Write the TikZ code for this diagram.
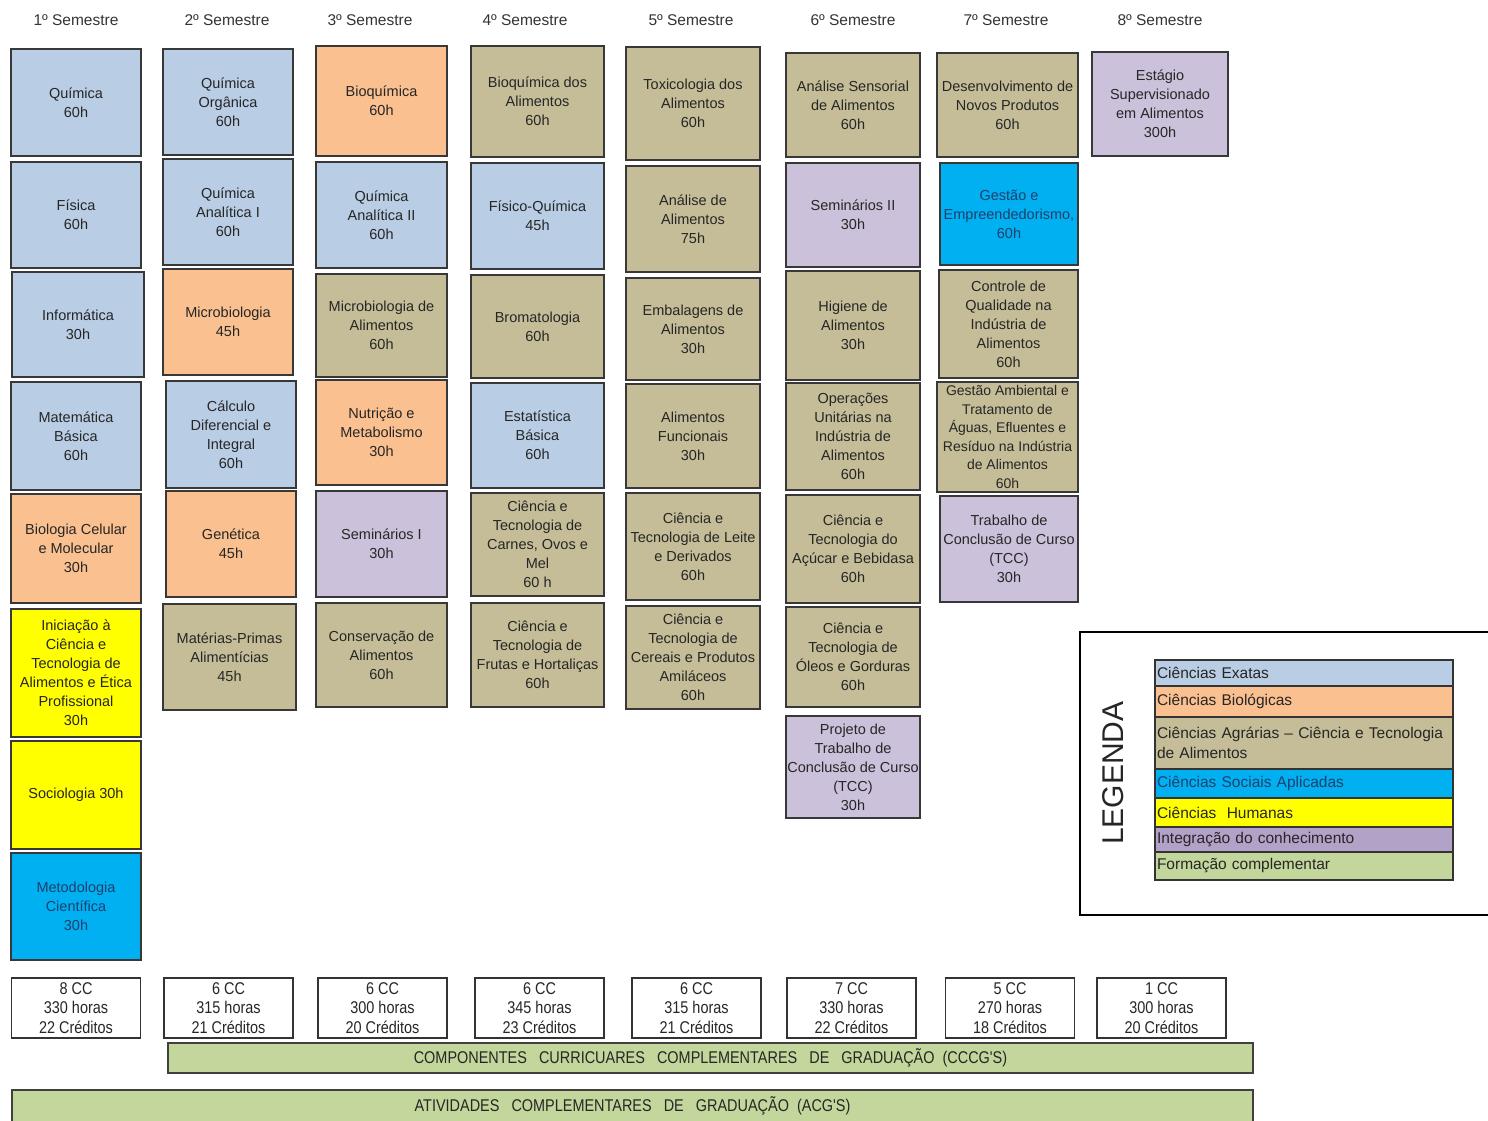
\documentclass[tikz,border=0pt]{standalone}
\usepackage{fontspec}
\setmainfont{Liberation Sans}
\newfontfamily\narrowfont[FakeStretch=0.85]{Liberation Sans}
\usepackage{tikz}
\definecolor{exatas}{HTML}{B9CDE5}
\definecolor{biologicas}{HTML}{FAC090}
\definecolor{agrarias}{HTML}{C4BD97}
\definecolor{sociais}{HTML}{00B0F0}
\definecolor{socialtext}{HTML}{1F3F6F}
\definecolor{humanas}{HTML}{FFFF00}
\definecolor{integracao}{HTML}{CCC1DA}
\definecolor{integleg}{HTML}{B3A2C7}
\definecolor{complementar}{HTML}{C3D69B}

\begin{document}
\begin{tikzpicture}[x=1pt, y=-1pt,
  cc/.style={draw=black!78, line width=1.6pt, align=center, inner sep=1pt, text=black!85, font=\fontsize{14.5}{19}\selectfont},
  exa/.style={cc, fill=exatas},
  bio/.style={cc, fill=biologicas},
  agr/.style={cc, fill=agrarias},
  soc/.style={cc, fill=sociais, text=socialtext},
  hum/.style={cc, fill=humanas},
  integ/.style={cc, fill=integracao},
  sz/.style 2 args={minimum width=#1pt, minimum height=#2pt},
  sem/.style={font=\fontsize{15.5}{18}\selectfont, text=black!80},
  tot/.style={draw=black!80, line width=1.2pt, fill=white, align=center, inner sep=0pt, minimum width=129pt, minimum height=60pt, text=black!85, font=\narrowfont\fontsize{17}{19.5}\selectfont},
  bar/.style={draw=black!75, line width=1.4pt, fill=complementar, text=black!85, font=\narrowfont\fontsize{17}{19}\selectfont},
  leg/.style={draw=black!80, line width=1.2pt, text width=294pt, align=left, inner sep=2pt, text=black!85, font=\fontsize{15.5}{20}\selectfont}]
  \useasboundingbox (0,0) rectangle (1488,1120);

  \foreach \px/\num in {76/1, 227/2, 370/3, 525/4, 691/5, 853/6, 1006/7, 1160/8}
    \node[sem] (sem\num) at (\px,20) {\num{}º Semestre};

  \node[exa, sz={130}{107}] (qui) at (76,102.5) {Química\\60h};
  \node[exa, sz={130}{106}] (fis) at (76,215) {Física\\60h};
  \node[exa, sz={132}{105}] (info) at (78,324.5) {Informática\\30h};
  \node[exa, sz={130}{108}] (matb) at (76,436) {Matemática\\Básica\\60h};
  \node[bio, sz={130}{109}] (biocel) at (76,548.5) {Biologia Celular\\e Molecular\\30h};
  \node[hum, sz={130}{128}] (inic) at (76,673) {Iniciação à\\Ciência e\\Tecnologia de\\Alimentos e Ética\\Profissional\\30h};
  \node[hum, sz={130}{108}] (socio) at (76,795) {Sociologia 30h};
  \node[soc, sz={130}{107}] (metod) at (76,906.5) {Metodologia\\Científica\\30h};

  \node[exa, sz={130}{106}] (qorg) at (228,102) {Química\\Orgânica\\60h};
  \node[exa, sz={130}{106}] (qana1) at (228,212) {Química\\Analítica I\\60h};
  \node[bio, sz={130}{106}] (micro) at (228,322) {Microbiologia\\45h};
  \node[exa, sz={130}{107}] (calc) at (231,434.5) {Cálculo\\Diferencial e\\Integral\\60h};
  \node[bio, sz={130}{106}] (gen) at (231,544) {Genética\\45h};
  \node[agr, sz={133}{106}] (mprim) at (229.5,657) {Matérias-Primas\\Alimentícias\\45h};

  \node[bio, sz={131}{110}] (bioq) at (381.5,101) {Bioquímica\\60h};
  \node[exa, sz={131}{106}] (qana2) at (381.5,215) {Química\\Analítica II\\60h};
  \node[agr, sz={131}{103}] (microal) at (381.5,325.5) {Microbiologia de\\Alimentos\\60h};
  \node[bio, sz={131}{105}] (nutr) at (381.5,432.5) {Nutrição e\\Metabolismo\\30h};
  \node[integ, sz={131}{106}] (semi) at (381.5,544) {Seminários I\\30h};
  \node[agr, sz={131}{104}] (conserv) at (381.5,655) {Conservação de\\Alimentos\\60h};

  \node[agr, sz={133}{111}] (bioqal) at (537.5,101.5) {Bioquímica dos\\Alimentos\\60h};
  \node[exa, sz={133}{106}] (fisq) at (537.5,216) {Físico-Química\\45h};
  \node[agr, sz={133}{103}] (brom) at (537.5,326.5) {Bromatologia\\60h};
  \node[exa, sz={133}{105}] (estat) at (537.5,435.5) {Estatística\\Básica\\60h};
  \node[agr, sz={133}{103}] (carnes) at (537.5,544.5) {Ciência e\\Tecnologia de\\Carnes, Ovos e\\Mel\\60 h};
  \node[agr, sz={133}{104}] (frutas) at (537.5,655) {Ciência e\\Tecnologia de\\Frutas e Hortaliças\\60h};

  \node[agr, sz={134}{113}] (toxic) at (693,103.5) {Toxicologia dos\\Alimentos\\60h};
  \node[agr, sz={134}{106}] (analise) at (693,219) {Análise de\\Alimentos\\75h};
  \node[agr, sz={134}{102}] (embal) at (693,329) {Embalagens de\\Alimentos\\30h};
  \node[agr, sz={134}{104}] (funcion) at (693,436) {Alimentos\\Funcionais\\30h};
  \node[agr, sz={134}{107}] (leite) at (693,546.5) {Ciência e\\Tecnologia de Leite\\e Derivados\\60h};
  \node[agr, sz={134}{103}] (cereais) at (693,657.5) {Ciência e\\Tecnologia de\\Cereais e Produtos\\Amiláceos\\60h};

  \node[agr, sz={134}{104}] (sensor) at (853,105) {Análise Sensorial\\de Alimentos\\60h};
  \node[integ, sz={134}{104}] (semii) at (853,215) {Seminários II\\30h};
  \node[agr, sz={134}{109}] (higiene) at (853,325.5) {Higiene de\\Alimentos\\30h};
  \node[agr, sz={134}{107}] (operac) at (853,436.5) {Operações\\Unitárias na\\Indústria de\\Alimentos\\60h};
  \node[agr, sz={134}{108}] (acucar) at (853,549) {Ciência e\\Tecnologia do\\Açúcar e Bebidasa\\60h};
  \node[agr, sz={134}{100}] (oleos) at (853,657) {Ciência e\\Tecnologia de\\Óleos e Gorduras\\60h};
  \node[integ, sz={134}{102}] (projtcc) at (853,767) {Projeto de\\Trabalho de\\Conclusão de Curso\\(TCC)\\30h};

  \node[agr, sz={141}{104}] (desenv) at (1007.5,105) {Desenvolvimento de\\Novos Produtos\\60h};
  \node[soc, sz={138}{102}] (gestao) at (1009,214) {Gestão e\\Empreendedorismo,\\60h};
  \node[agr, sz={139}{108}] (controle) at (1008.5,324) {Controle de\\Qualidade na\\Indústria de\\Alimentos\\60h};
  \node[agr, sz={141}{110}, font=\fontsize{14}{18.5}\selectfont] (ambient) at (1007.5,437) {Gestão Ambiental e\\Tratamento de\\Águas, Efluentes e\\Resíduo na Indústria\\de Alimentos\\60h};
  \node[integ, sz={138}{106}] (tcc) at (1009,549) {Trabalho de\\Conclusão de Curso\\(TCC)\\30h};

  \node[integ, sz={136}{104}] (estagio) at (1160,104) {Estágio\\Supervisionado\\em Alimentos\\300h};

  \foreach \px/\num/\ccs/\hrs/\crd in {76/1/8/330/22, 228.5/2/6/315/21, 382.5/3/6/300/20, 539.5/4/6/345/23, 696.5/5/6/315/21, 851.5/6/7/330/22, 1010/7/5/270/18, 1161.5/8/1/300/20}
    \node[tot] (tot\num) at (\px,1008) {\ccs{} CC\\\hrs{} horas\\\crd{} Créditos};

  \node[bar, minimum width=1085pt, minimum height=30pt] (cccg) at (710.5,1058) {COMPONENTES\ \ \ CURRICUARES\ \ \ COMPLEMENTARES\ \ \ DE\ \ \ GRADUAÇÃO\ \ (CCCG'S)};
  \node[bar, minimum width=1241pt, minimum height=32pt] (acg) at (632.5,1106) {ATIVIDADES\ \ \ COMPLEMENTARES\ \ \ DE\ \ \ GRADUAÇÃO\ \ (ACG'S)};

  \draw[line width=2.5pt] (1080,632) rectangle (1494,915);
  \node[rotate=90, text=black!85, font=\fontsize{30}{30}\selectfont] (legtit) at (1113,773) {LEGENDA};
  \node[leg, fill=exatas, minimum height=26pt] (lexa) at (1304,673) {Ciências Exatas};
  \node[leg, fill=biologicas, minimum height=31pt] (lbio) at (1304,701.5) {Ciências Biológicas};
  \node[leg, fill=agrarias, minimum height=52pt] (lagr) at (1304,743) {Ciências Agrárias – Ciência e Tecnologia\\de Alimentos};
  \node[leg, fill=sociais, text=socialtext, minimum height=29pt] (lsoc) at (1304,783.5) {Ciências Sociais Aplicadas};
  \node[leg, fill=humanas, minimum height=29pt] (lhum) at (1304,812.5) {Ciências\ \ Humanas};
  \node[leg, fill=integleg, minimum height=25pt] (lint) at (1304,839.5) {Integração do conhecimento};
  \node[leg, fill=complementar, minimum height=28pt] (lcomp) at (1304,866) {Formação complementar};
\end{tikzpicture}
\end{document}
